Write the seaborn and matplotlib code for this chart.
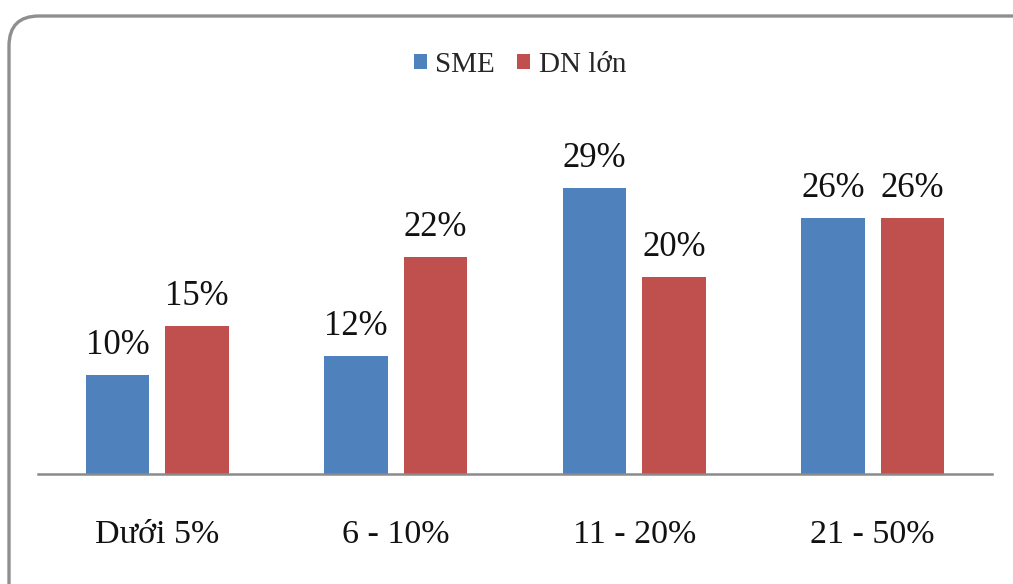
import matplotlib
matplotlib.use("Agg")
import matplotlib.pyplot as plt
from matplotlib.patches import FancyBboxPatch, Patch
import seaborn as sns
import pandas as pd

# Share of firms by cost bracket, SME vs large enterprises
categories = ["Dưới 5%", "6 - 10%", "11 - 20%", "21 - 50%"]
sme = [10, 12, 29, 26]
dn_lon = [15, 22, 20, 26]
series_names = ["SME", "DN lớn"]
colors = ["#4F81BD", "#C0504D"]

df = pd.DataFrame({
    "cat": categories * 2,
    "val": sme + dn_lon,
    "grp": [series_names[0]] * len(categories) + [series_names[1]] * len(categories),
})

sns.set_theme(style="white")
plt.rcParams["font.family"] = ["Liberation Serif", "DejaVu Serif"]

W, H = 1013, 584
fig = plt.figure(figsize=(W / 100, H / 100), dpi=100)

# rounded outer frame
r = 30
frame = FancyBboxPatch((9 / W, -40 / H), (W + 40) / W, (H - 16 + 40) / H,
                       boxstyle=f"round,pad=0,rounding_size={r / W}",
                       mutation_aspect=W / H,
                       transform=fig.transFigure, facecolor="none",
                       edgecolor="#8f8f8f", linewidth=2.4, zorder=0)
fig.patches.append(frame)

ax = fig.add_axes([38 / W, 110 / H, 954 / W, 335 / H])
ax.set_facecolor("none")
sns.barplot(data=df, x="cat", y="val", hue="grp", palette=colors,
            width=0.665, gap=0.2, linewidth=0, ax=ax, saturation=1, legend=False)

ax.set_xlim(-0.5, 3.5)
ax.set_ylim(0, 34)

for cont in ax.containers:
    for bar in cont:
        v = bar.get_height()
        ax.annotate(f"{v:.0f}%", (bar.get_x() + bar.get_width() / 2, v),
                    xytext=(0, 9.5), textcoords="offset points",
                    ha="center", va="bottom", fontsize=25, color="#111111")

for s in ["top", "left", "right"]:
    ax.spines[s].set_visible(False)
ax.spines["bottom"].set_color("#8a8a8a")
ax.spines["bottom"].set_linewidth(1.8)
ax.set_yticks([])
ax.set_xlabel("")
ax.set_ylabel("")
ax.tick_params(axis="x", length=0, pad=33, labelsize=24.5, labelcolor="#111111")

handles = [Patch(facecolor=c, edgecolor="none") for c in colors]
fig.legend(handles, series_names, loc="center", bbox_to_anchor=(520 / W, 1 - 65 / H),
           ncol=2, frameon=False, fontsize=21, handlelength=0.45, handleheight=0.45,
           handletextpad=0.3, columnspacing=0.75, borderaxespad=0)

fig.savefig("out.png", dpi=100)
